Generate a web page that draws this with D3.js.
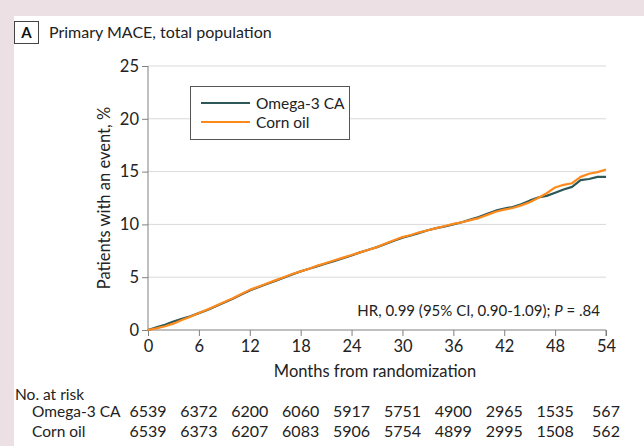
<!DOCTYPE html>
<html>
<head>
<meta charset="utf-8">
<script src="https://cdn.jsdelivr.net/npm/d3@7"></script>
<style>
  html, body { margin: 0; padding: 0; background: #ede0e4; }
  svg { display: block; font-family: Lato, "Noto Sans", sans-serif; }
</style>
</head>
<body>
<svg id="chart" width="644" height="446"></svg>
<script>
// Cumulative incidence (%) at each month, 0..54
const months = d3.range(0, 55);
const omega3 = [0, 0.25, 0.5, 0.8, 1.05, 1.3, 1.6, 1.9, 2.25, 2.6, 2.95, 3.35, 3.75, 4.05, 4.35, 4.65,
  4.95, 5.25, 5.55, 5.8, 6.05, 6.3, 6.55, 6.8, 7.05, 7.35, 7.6, 7.85, 8.15, 8.45, 8.75, 8.95, 9.2,
  9.45, 9.65, 9.8, 10.0, 10.2, 10.45, 10.7, 11.0, 11.3, 11.5, 11.65, 11.9, 12.25, 12.55, 12.7, 13.0,
  13.3, 13.55, 14.2, 14.3, 14.5, 14.5];
const cornOil = [0, 0.15, 0.35, 0.6, 0.95, 1.25, 1.6, 1.95, 2.3, 2.65, 3.0, 3.4, 3.8, 4.1, 4.4, 4.7,
  5.0, 5.3, 5.55, 5.8, 6.1, 6.35, 6.6, 6.85, 7.1, 7.35, 7.6, 7.85, 8.2, 8.5, 8.8, 9.0, 9.25, 9.45,
  9.65, 9.85, 10.05, 10.2, 10.4, 10.6, 10.9, 11.2, 11.4, 11.55, 11.8, 12.1, 12.5, 12.95, 13.5,
  13.75, 13.9, 14.5, 14.8, 14.95, 15.2];

const xTicks = [0, 6, 12, 18, 24, 30, 36, 42, 48, 54];
const yTicks = [0, 5, 10, 15, 20, 25];
const riskOmega3 = [6539, 6372, 6200, 6060, 5917, 5751, 4900, 2965, 1535, 567];
const riskCornOil = [6539, 6373, 6207, 6083, 5906, 5754, 4899, 2995, 1508, 562];

const seriesNames = ["Omega-3 CA", "Corn oil"];
const seriesColors = ["#2c5858", "#ff8a1c"];

const svg = d3.select("#chart");

// white panel
svg.append("rect").attr("x", 14).attr("y", 16).attr("width", 630).attr("height", 430).attr("fill", "#fff");

// panel label
svg.append("rect").attr("x", 14.5).attr("y", 21.5).attr("width", 24).attr("height", 22)
  .attr("fill", "#fff").attr("stroke", "#444").attr("stroke-width", 1);
svg.append("text").attr("x", 26.5).attr("y", 38).attr("text-anchor", "middle")
  .attr("font-size", 15).attr("font-weight", "bold").attr("fill", "#111").text("A");
svg.append("text").attr("x", 49).attr("y", 38).attr("font-size", 16).attr("fill", "#222")
  .text("Primary MACE, total population");

const x = d3.scaleLinear().domain([0, 54]).range([148, 606]);
const y = d3.scaleLinear().domain([0, 25]).range([330, 66]);

// gridlines
svg.append("g").selectAll("line").data(yTicks.filter(d => d > 0)).join("line")
  .attr("x1", x(0)).attr("x2", x(54)).attr("y1", d => y(d)).attr("y2", d => y(d))
  .attr("stroke", "#d9d9d9").attr("stroke-width", 1);

// y axis
const yAxis = svg.append("g").attr("transform", `translate(${x(0)},0)`)
  .call(d3.axisLeft(y).tickValues(yTicks).tickSize(6).tickPadding(3));
// x axis
const xAxis = svg.append("g").attr("transform", `translate(0,${y(0)})`)
  .call(d3.axisBottom(x).tickValues(xTicks).tickSize(6).tickPadding(4));

[yAxis, xAxis].forEach(g => {
  g.select(".domain").attr("stroke", "#808080");
  g.selectAll(".tick line").attr("stroke", "#808080");
  g.selectAll(".tick text").attr("font-family", "Lato, 'Noto Sans', sans-serif")
    .attr("font-size", 16.5).attr("fill", "#222");
});
yAxis.select(".domain").attr("d", `M0,${y(25)}V${y(0)}`);
xAxis.select(".domain").attr("d", `M${x(0)},0H${x(54)}V6`);

// axis titles
svg.append("text").attr("transform", `translate(110,${(y(0) + y(25)) / 2}) rotate(-90)`)
  .attr("text-anchor", "middle").attr("font-size", 16.5).attr("fill", "#222")
  .text("Patients with an event, %");
svg.append("text").attr("x", 375).attr("y", 377).attr("text-anchor", "middle")
  .attr("font-size", 16.5).attr("fill", "#222").text("Months from randomization");

// curves
const line = d3.line().x((d, i) => x(months[i])).y(d => y(d));
[omega3, cornOil].forEach((s, k) => {
  svg.append("path").datum(s).attr("d", line).attr("fill", "none")
    .attr("stroke", seriesColors[k]).attr("stroke-width", 2.2).attr("stroke-linejoin", "round");
});

// legend
svg.append("rect").attr("x", 190.5).attr("y", 86.5).attr("width", 159).attr("height", 53)
  .attr("fill", "#fff").attr("stroke", "#555").attr("stroke-width", 1);
seriesNames.forEach((n, k) => {
  const ly = 103 + k * 19;
  svg.append("line").attr("x1", 201).attr("x2", 250).attr("y1", ly).attr("y2", ly)
    .attr("stroke", seriesColors[k]).attr("stroke-width", 2);
  svg.append("text").attr("x", 256).attr("y", ly + 5.5).attr("font-size", 15.5).attr("fill", "#222").text(n);
});

// hazard ratio note
const hr = svg.append("text").attr("x", 600).attr("y", 316).attr("text-anchor", "end")
  .attr("font-size", 15).attr("fill", "#222");
hr.append("tspan").text("HR, 0.99 (95% CI, 0.90-1.09); ");
hr.append("tspan").attr("font-style", "italic").text("P");
hr.append("tspan").text(" = .84");

// number at risk table
svg.append("text").attr("x", 15).attr("y", 400).attr("font-size", 15.5).attr("fill", "#222").text("No. at risk");
[riskOmega3, riskCornOil].forEach((row, k) => {
  const ry = 417 + k * 19.5;
  svg.append("text").attr("x", 32).attr("y", ry).attr("font-size", 15.5).attr("fill", "#222").text(seriesNames[k]);
  svg.append("g").selectAll("text").data(row).join("text")
    .attr("x", (d, i) => x(xTicks[i])).attr("y", ry).attr("text-anchor", "middle")
    .attr("font-size", 16).attr("fill", "#222").text(d => d);
});
</script>
</body>
</html>
